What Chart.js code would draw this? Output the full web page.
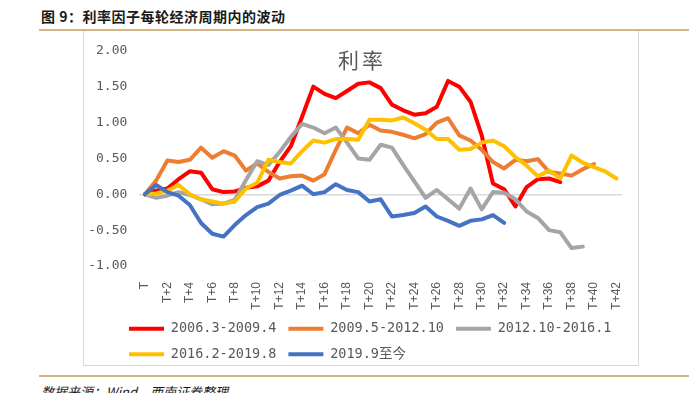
<!DOCTYPE html>
<html>
<head>
<meta charset="utf-8">
<title>利率因子每轮经济周期内的波动</title>
<script src="https://cdn.jsdelivr.net/npm/chart.js@4.4.0/dist/chart.umd.min.js"></script>
<style>
  body {
    margin: 0;
    width: 689px;
    height: 393px;
    overflow: hidden;
    position: relative;
    background: #fff;
    font-family: 'Noto Sans CJK SC', sans-serif;
  }
  #fig-title {
    position: absolute;
    left: 41px;
    top: 6px;
    font-size: 14px;
    font-weight: bold;
    letter-spacing: 0.5px;
    color: #1a1a1a;
    line-height: 20px;
  }
  .rule {
    position: absolute;
    left: 39px;
    right: 0;
    height: 2px;
    background: #d4b483;
  }
  #box {
    position: absolute;
    left: 83px;
    top: 31px;
    width: 554px;
    height: 334px;
    border: 1.5px solid #d9d9d9;
    border-top: none;
  }
  #chart-wrap {
    position: absolute;
    left: 84px;
    top: 31px;
    width: 555px;
    height: 340px;
  }
  #chart-name {
    position: absolute;
    left: 300px;
    width: 124px;
    top: 47px;
    line-height: 24px;
    text-align: center;
    font-size: 21px;
    letter-spacing: 3px;
    color: #595959;
  }
  #source {
    position: absolute;
    left: 41px;
    top: 382px;
    font-size: 13px;
    font-style: italic;
    color: #1a1a1a;
  }
</style>
</head>
<body>
<div id="fig-title">图 9：利率因子每轮经济周期内的波动</div>
<div class="rule" style="top:29px"></div>
<div id="box"></div>
<div id="chart-wrap"><canvas id="myChart"></canvas></div>
<div id="chart-name">利率</div>
<div class="rule" style="top:375px"></div>
<div id="source">数据来源：Wind，西南证券整理</div>

<script>
'use strict';

// months after the start of each cycle
const categories = ['T', 'T+1', 'T+2', 'T+3', 'T+4', 'T+5', 'T+6', 'T+7', 'T+8', 'T+9',
  'T+10', 'T+11', 'T+12', 'T+13', 'T+14', 'T+15', 'T+16', 'T+17', 'T+18', 'T+19',
  'T+20', 'T+21', 'T+22', 'T+23', 'T+24', 'T+25', 'T+26', 'T+27', 'T+28', 'T+29',
  'T+30', 'T+31', 'T+32', 'T+33', 'T+34', 'T+35', 'T+36', 'T+37', 'T+38', 'T+39',
  'T+40', 'T+41', 'T+42'];

// series names (legend)
const seriesNames = ['2006.3-2009.4', '2009.5-2012.10', '2012.10-2016.1', '2016.2-2019.8', '2019.9至今'];

// values
const cycle2006 = [0, 0.05, 0.08, 0.21, 0.32, 0.30, 0.07, 0.03, 0.04, 0.09,
  0.11, 0.19, 0.45, 0.67, 1.08, 1.50, 1.40, 1.34, 1.44, 1.54,
  1.56, 1.48, 1.25, 1.17, 1.11, 1.13, 1.22, 1.58, 1.50, 1.29,
  0.82, 0.15, 0.07, -0.17, 0.10, 0.21, 0.22, 0.17];
const cycle2009 = [0, 0.19, 0.47, 0.45, 0.48, 0.65, 0.51, 0.60, 0.54, 0.33,
  0.43, 0.31, 0.22, 0.25, 0.26, 0.19, 0.28, 0.62, 0.93, 0.85,
  0.97, 0.89, 0.87, 0.83, 0.78, 0.84, 1.00, 1.06, 0.82, 0.75,
  0.62, 0.45, 0.36, 0.48, 0.46, 0.49, 0.31, 0.29, 0.26, 0.35,
  0.42];
const cycle2012 = [0, -0.05, -0.02, 0.03, -0.01, -0.07, -0.14, -0.13, -0.08, 0.20,
  0.46, 0.41, 0.59, 0.80, 0.98, 0.93, 0.85, 0.93, 0.72, 0.50,
  0.48, 0.69, 0.65, 0.41, 0.18, -0.05, 0.06, -0.07, -0.20, 0.08,
  -0.21, 0.03, 0.02, -0.07, -0.24, -0.33, -0.50, -0.53, -0.75, -0.73];
const cycle2016 = [0, 0.01, 0.05, 0.13, 0.00, -0.07, -0.10, -0.13, -0.10, 0.08,
  0.16, 0.48, 0.45, 0.43, 0.60, 0.75, 0.72, 0.77, 0.77, 0.76,
  1.04, 1.04, 1.03, 1.07, 0.99, 0.90, 0.77, 0.77, 0.62, 0.63,
  0.72, 0.75, 0.67, 0.52, 0.40, 0.25, 0.33, 0.22, 0.54, 0.44,
  0.38, 0.32, 0.22];
const cycle2019 = [0, 0.13, 0.03, -0.02, -0.15, -0.40, -0.55, -0.59, -0.43, -0.29,
  -0.18, -0.13, -0.01, 0.05, 0.12, 0.00, 0.03, 0.14, 0.06, 0.03,
  -0.10, -0.07, -0.31, -0.29, -0.26, -0.17, -0.31, -0.37, -0.44, -0.37,
  -0.35, -0.29, -0.40];

// y axis range
const yMin = -1;
const yMax = 2;
const yStep = 0.5;

const seriesColors = ['#ff0000', '#ed7d31', '#a5a5a5', '#ffc000', '#4472c4'];
const allSeries = [cycle2006, cycle2009, cycle2012, cycle2016, cycle2019];

const monoFont = "'DejaVu Sans Mono', 'Noto Sans CJK SC', monospace";

// build datasets, later series drawn on top like the excel original
let datasets = [];
for (let i = 0; i < allSeries.length; i++) {
  datasets.push({
    label: seriesNames[i],
    data: allSeries[i],
    borderColor: seriesColors[i],
    backgroundColor: seriesColors[i],
    borderWidth: 4,
    pointRadius: 0,
    tension: 0,
    fill: false,
    borderJoinStyle: 'round',
    borderCapStyle: 'round',
    order: allSeries.length - i
  });
}

// legend rows start under the plot, not at the canvas edge
const legendShift = {
  id: 'legendShift',
  afterLayout(chart) {
    chart.legend.left += 33;
  }
};

const ctx = document.getElementById('myChart').getContext('2d');
const myChart = new Chart(ctx, {
  type: 'line',
  data: {
    labels: categories,
    datasets: datasets
  },
  plugins: [legendShift],
  options: {
    responsive: true,
    maintainAspectRatio: false,
    animation: false,
    layout: {
      padding: { left: 0, right: 12.3, top: 11, bottom: 0 }
    },
    plugins: {
      tooltip: { enabled: false },
      title: { display: false },
      legend: {
        position: 'bottom',
        align: 'start',
        labels: {
          usePointStyle: true,
          pointStyle: 'line',
          pointStyleWidth: 35,
          padding: 12,
          color: '#595959',
          font: { family: monoFont, size: 13.5 },
          sort: (a, b) => a.datasetIndex - b.datasetIndex
        }
      }
    },
    scales: {
      x: {
        offset: true,
        grid: { display: false },
        border: { display: false },
        ticks: {
          autoSkip: false,
          minRotation: 90,
          maxRotation: 90,
          padding: 8,
          color: '#595959',
          font: { family: "'Liberation Sans', Arial, sans-serif", size: 12 },
          // every second month gets a label
          callback: function (value, index) {
            return index % 2 === 0 ? categories[index] : '';
          }
        },
        afterFit: function (scale) {
          scale.height = 44;
        }
      },
      y: {
        min: yMin,
        max: yMax,
        grid: {
          drawTicks: false,
          lineWidth: 1.5,
          color: (c) => (c.tick && c.tick.value === 0 ? '#d9d9d9' : 'rgba(0,0,0,0)')
        },
        border: { display: false },
        ticks: {
          stepSize: yStep,
          padding: 12,
          color: '#595959',
          font: { family: monoFont, size: 13 },
          callback: (v) => v.toFixed(2)
        },
        afterFit: function (scale) {
          scale.width = 55.3;
        }
      }
    }
  }
});
</script>
</body>
</html>
